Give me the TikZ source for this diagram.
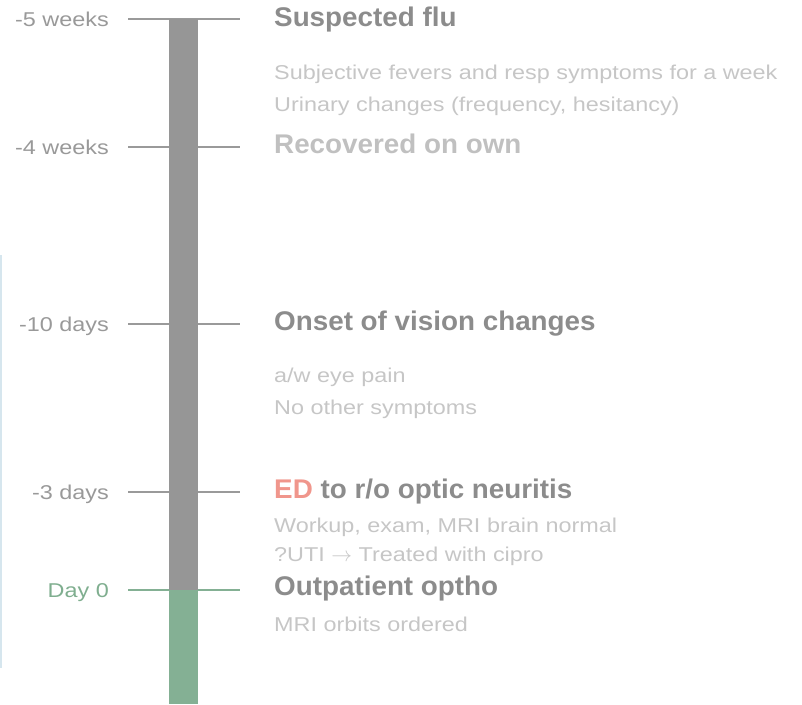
\documentclass[tikz,border=0pt]{standalone}
\usepackage{fontspec}
\setmainfont{Liberation Sans}
\newfontfamily\regfont[FakeStretch=1.17]{Liberation Sans}
\newfontfamily\boldfont[FakeStretch=1.03]{Liberation Sans Bold}
\definecolor{bargrey}{HTML}{969696}
\definecolor{bargreen}{HTML}{84B094}
\definecolor{tickgrey}{HTML}{9A9A9A}
\definecolor{titlegrey}{HTML}{8C8C8C}
\definecolor{paletitle}{HTML}{C0C0C0}
\definecolor{bodygrey}{HTML}{C6C6C6}
\definecolor{labelgrey}{HTML}{999999}
\definecolor{daygreen}{HTML}{7FAE8F}
\definecolor{edred}{HTML}{F0968C}
\definecolor{edgeblue}{HTML}{D6E6EE}
\tikzset{
  tick/.style={line width=1.6pt, draw=tickgrey},
  whenlabel/.style={anchor=base east, inner sep=0pt, text=labelgrey, font=\regfont\fontsize{20}{24}\selectfont},
  title/.style={anchor=base west, inner sep=0pt, text=titlegrey, font=\boldfont\fontsize{27}{30}\selectfont},
  body/.style={anchor=base west, inner sep=0pt, text=bodygrey, font=\regfont\fontsize{20}{24}\selectfont},
}
\begin{document}
\begin{tikzpicture}[x=1pt,y=-1pt]
\useasboundingbox (0,0) rectangle (802,704);
% faint left edge line
\fill[edgeblue] (0,255) rectangle (2,668);
% ticks
\coordinate (t1a) at (128,19);  \coordinate (t1b) at (240,19);
\coordinate (t2a) at (128,147); \coordinate (t2b) at (240,147);
\coordinate (t3a) at (128,324); \coordinate (t3b) at (240,324);
\coordinate (t4a) at (128,492); \coordinate (t4b) at (240,492);
\coordinate (t5a) at (128,590); \coordinate (t5b) at (240,590);
\draw[tick] (t1a) -- (t1b);
\draw[tick] (t2a) -- (t2b);
\draw[tick] (t3a) -- (t3b);
\draw[tick] (t4a) -- (t4b);
\draw[tick, draw=bargreen] (t5a) -- (t5b);
% bar
\fill[bargrey] (169,19) rectangle (198,590);
\fill[bargreen] (169,590) rectangle (198,704);
% left labels
\node[whenlabel] (l1) at (109,26) {-5 weeks};
\node[whenlabel] (l2) at (109,154) {-4 weeks};
\node[whenlabel] (l3) at (109,331) {-10 days};
\node[whenlabel] (l4) at (109,499) {-3 days};
\node[whenlabel, text=daygreen] (l5) at (109,597) {Day 0};
% titles and bodies
\node[title] (h1) at (274,26) {Suspected flu};
\node[body] (b1a) at (274,79) {Subjective fevers and resp symptoms for a week};
\node[body] (b1b) at (274,111) {Urinary changes (frequency, hesitancy)};
\node[title, text=paletitle] (h2) at (274,153) {Recovered on own};
\node[title] (h3) at (274,330) {Onset of vision changes};
\node[body] (b3a) at (274,382) {a/w eye pain};
\node[body] (b3b) at (274,414) {No other symptoms};
\node[title] (h4) at (274,498) {\textcolor{edred}{ED} to r/o optic neuritis};
\node[body] (b4a) at (274,532) {Workup, exam, MRI brain normal};
\node[body] (b4b) at (274,561) {?UTI $\rightarrow$ Treated with cipro};
\node[title] (h5) at (274,595) {Outpatient optho};
\node[body] (b5) at (274,631) {MRI orbits ordered};
\end{tikzpicture}
\end{document}
